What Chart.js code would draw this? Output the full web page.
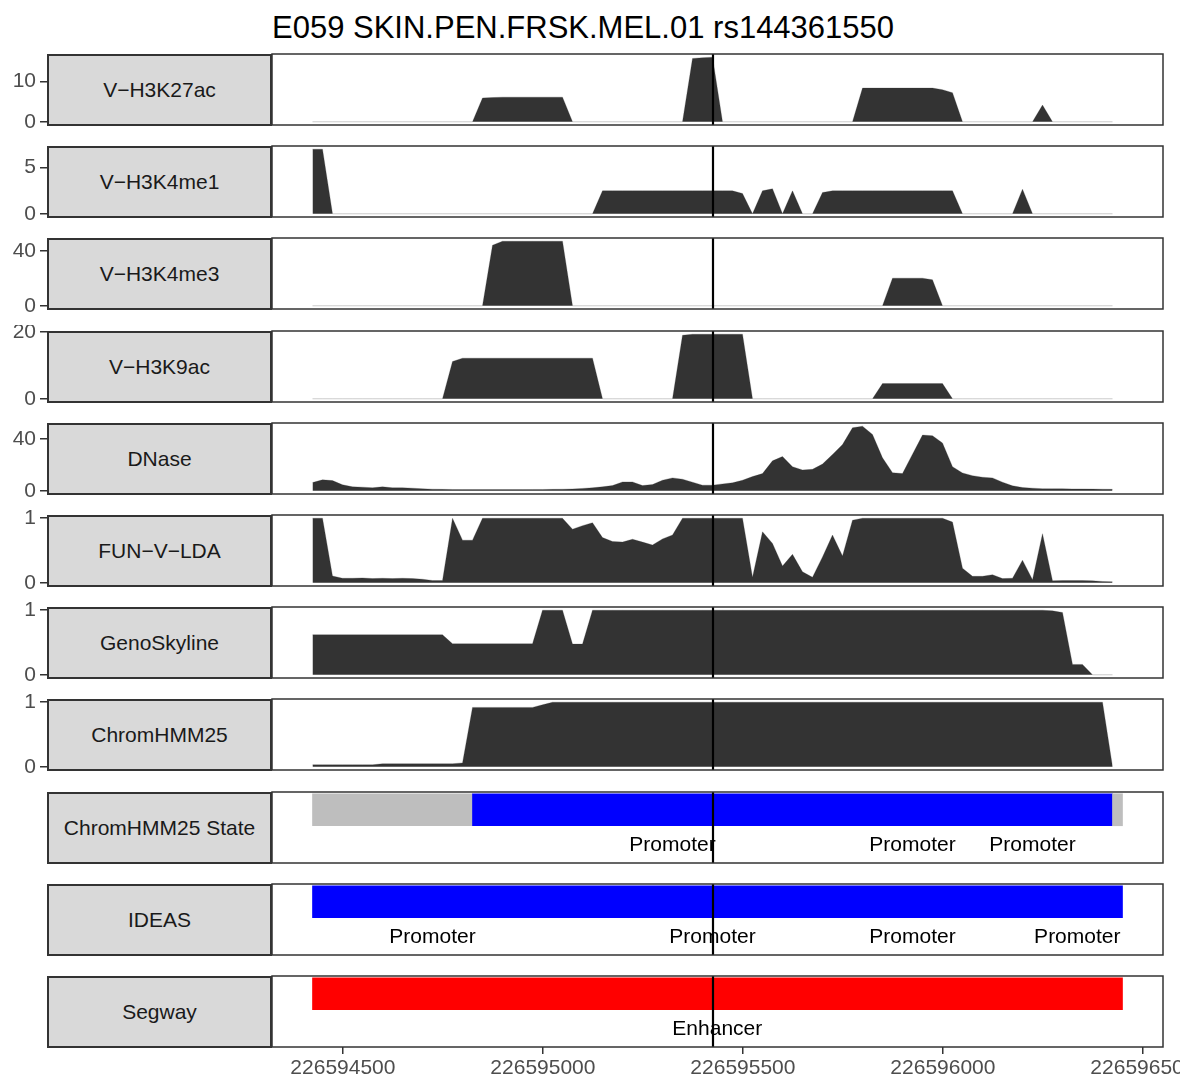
<!DOCTYPE html>
<html>
<head>
<meta charset="utf-8">
<script src="https://cdn.jsdelivr.net/npm/chart.js@4.4.1/dist/chart.umd.min.js"></script>
<style>
  html, body { margin: 0; padding: 0; background: #ffffff; }
  #fig { position: relative; width: 1180px; height: 1078px; overflow: hidden;
         font-family: "Liberation Sans", Arial, Helvetica, sans-serif; }
  #fig canvas { position: absolute; left: 0; }
  #title { position: absolute; left: 272px; top: 12px; font-size: 31px; line-height: 31px;
           color: #000; white-space: nowrap; }
  .strip { position: absolute; left: 47px; width: 225px; height: 72px; box-sizing: border-box;
           border: 2px solid #333333; background: #d9d9d9; color: #1a1a1a; font-size: 21px;
           display: flex; align-items: center; justify-content: center; white-space: nowrap; }
</style>
</head>
<body>
<div id="fig">
  <div id="title">E059 SKIN.PEN.FRSK.MEL.01 rs144361550</div>
</div>
<script>
// Region around the SNP, 25 bp bins
const snpPos = 226595424;
const regionStart = 226594424;
const regionEnd = 226596449;

const binPos = [
  226594424, 226594449, 226594474, 226594499, 226594524, 226594549, 226594574, 226594599, 226594624, 226594649,
  226594674, 226594699, 226594724, 226594749, 226594774, 226594799, 226594824, 226594849, 226594874, 226594899,
  226594924, 226594949, 226594974, 226594999, 226595024, 226595049, 226595074, 226595099, 226595124, 226595149,
  226595174, 226595199, 226595224, 226595249, 226595274, 226595299, 226595324, 226595349, 226595374, 226595399,
  226595424, 226595449, 226595474, 226595499, 226595524, 226595549, 226595574, 226595599, 226595624, 226595649,
  226595674, 226595699, 226595724, 226595749, 226595774, 226595799, 226595824, 226595849, 226595874, 226595899,
  226595924, 226595949, 226595974, 226595999, 226596024, 226596049, 226596074, 226596099, 226596124, 226596149,
  226596174, 226596199, 226596224, 226596249, 226596274, 226596299, 226596324, 226596349, 226596374, 226596399,
  226596424
];

const xTicks = [226594500, 226595000, 226595500, 226596000, 226596500];

// Signal tracks (one value per bin)
const h3k27ac = [
  0,0,0,0,0,0,0,0,0,0,
  0,0,0,0,0,0,0,5.9,6.0,6.1,
  6.1,6.1,6.1,6.1,6.1,6.1,0,0,0,0,
  0,0,0,0,0,0,0,0,15.7,15.9,
  16.0,0,0,0,0,0,0,0,0,0,
  0,0,0,0,0,8.35,8.35,8.35,8.35,8.35,
  8.35,8.35,8.35,7.95,7.2,0,0,0,0,0,
  0,0,0,4.15,0,0,0,0,0,0,
  0
];
const h3k27acTicks = [0, 10];

const h3k4me1 = [
  6.98,6.98,0,0,0,0,0,0,0,0,
  0,0,0,0,0,0,0,0,0,0,
  0,0,0,0,0,0,0,0,0,2.48,
  2.48,2.48,2.48,2.48,2.48,2.48,2.48,2.48,2.48,2.48,
  2.48,2.48,2.48,2.19,0,2.48,2.7,0,2.48,0,
  0,2.3,2.48,2.48,2.48,2.48,2.48,2.48,2.48,2.48,
  2.48,2.48,2.48,2.48,2.48,0,0,0,0,0,
  0,2.66,0,0,0,0,0,0,0,0,
  0
];
const h3k4me1Ticks = [0, 5];

const h3k4me3 = [
  0,0,0,0,0,0,0,0,0,0,
  0,0,0,0,0,0,0,0,44.1,47,
  47,47,47,47,47,47,0,0,0,0,
  0,0,0,0,0,0,0,0,0,0,
  0,0,0,0,0,0,0,0,0,0,
  0,0,0,0,0,0,0,0,20.1,20.1,
  20.1,20.1,18.9,0,0,0,0,0,0,0,
  0,0,0,0,0,0,0,0,0,0,
  0
];
const h3k4me3Ticks = [0, 20, 40];

const h3k9ac = [
  0,0,0,0,0,0,0,0,0,0,
  0,0,0,0,11.2,12.2,12.2,12.2,12.2,12.2,
  12.2,12.2,12.2,12.2,12.2,12.2,12.2,12.2,12.2,0,
  0,0,0,0,0,0,0,19.1,19.4,19.4,
  19.4,19.4,19.4,19.4,0,0,0,0,0,0,
  0,0,0,0,0,0,0,4.57,4.57,4.57,
  4.57,4.57,4.57,4.57,0,0,0,0,0,0,
  0,0,0,0,0,0,0,0,0,0,
  0
];
const h3k9acTicks = [0, 10, 20];

const dnase = [
  6.3,8.4,7.8,4.6,3.0,2.8,2.3,3.0,2.3,2.3,
  2.0,1.5,1.25,1.1,1.0,0.9,0.9,0.9,0.9,0.9,
  0.9,0.9,1.0,1.0,1.1,1.2,1.4,1.8,2.3,3.0,
  4.0,6.8,6.8,4.0,4.8,8.1,9.9,8.9,6.6,4.3,
  4.3,5.3,6.1,8.1,10.9,13.2,23,26.3,18.5,16,
  16.5,20.5,27.9,35.5,48.4,49.6,43.3,25.3,13.9,13.2,
  28.1,42.8,42.3,36.7,18.5,13.7,11.6,10.4,9.9,6.6,
  3.8,2.5,2.0,1.6,1.5,1.5,1.4,1.4,1.3,1.2,
  1.1
];
const dnaseTicks = [0, 20, 40];

const funLda = [
  1.0,1.0,0.105,0.07,0.07,0.075,0.065,0.07,0.065,0.07,
  0.065,0.055,0.035,0.035,1.0,0.66,0.66,1.0,1.0,1.0,
  1.0,1.0,1.0,1.0,1.0,1.0,0.83,0.885,0.93,0.70,
  0.64,0.63,0.675,0.63,0.585,0.68,0.74,1.0,1.0,1.0,
  1.0,1.0,1.0,1.0,0.085,0.79,0.61,0.26,0.44,0.17,
  0.085,0.40,0.74,0.415,0.97,1.0,1.0,1.0,1.0,1.0,
  1.0,1.0,1.0,1.0,0.94,0.225,0.10,0.10,0.125,0.065,
  0.07,0.35,0.045,0.76,0.03,0.035,0.035,0.035,0.03,0.02,
  0.015
];
const genoSkyline = [
  0.62,0.62,0.62,0.62,0.62,0.62,0.62,0.62,0.62,0.62,
  0.62,0.62,0.62,0.62,0.48,0.48,0.48,0.48,0.48,0.48,
  0.48,0.48,0.48,1.0,1.0,1.0,0.475,0.475,1.0,1.0,
  1.0,1.0,1.0,1.0,1.0,1.0,1.0,1.0,1.0,1.0,
  1.0,1.0,1.0,1.0,1.0,1.0,1.0,1.0,1.0,1.0,
  1.0,1.0,1.0,1.0,1.0,1.0,1.0,1.0,1.0,1.0,
  1.0,1.0,1.0,1.0,1.0,1.0,1.0,1.0,1.0,1.0,
  1.0,1.0,1.0,1.0,0.99,0.965,0.16,0.16,0,0,
  0
];
const chromHmm25 = [
  0.03,0.03,0.03,0.03,0.03,0.03,0.03,0.047,0.047,0.047,
  0.047,0.047,0.047,0.047,0.047,0.06,0.92,0.92,0.92,0.92,
  0.92,0.92,0.92,0.96,1.0,1.0,1.0,1.0,1.0,1.0,
  1.0,1.0,1.0,1.0,1.0,1.0,1.0,1.0,1.0,1.0,
  1.0,1.0,1.0,1.0,1.0,1.0,1.0,1.0,1.0,1.0,
  1.0,1.0,1.0,1.0,1.0,1.0,1.0,1.0,1.0,1.0,
  1.0,1.0,1.0,1.0,1.0,1.0,1.0,1.0,1.0,1.0,
  1.0,1.0,1.0,1.0,1.0,1.0,1.0,1.0,1.0,1.0,
  0
];
const unitTicks = [0, 1];

// Segmentation tracks
const stateColors = { Quiescent: '#bebebe', Promoter: '#0000ff', Enhancer: '#ff0000' };

const chromStateStart = [226594424, 226594824, 226596424];
const chromStateEnd   = [226594824, 226596424, 226596449];
const chromStateName  = ['Quiescent', 'Promoter', 'Quiescent'];
const chromStateLabelPos  = [226595324, 226595924, 226596224];
const chromStateLabelText = ['Promoter', 'Promoter', 'Promoter'];

const ideasStart = [226594424];
const ideasEnd   = [226596449];
const ideasName  = ['Promoter'];
const ideasLabelPos  = [226594724, 226595424, 226595924, 226596336];
const ideasLabelText = ['Promoter', 'Promoter', 'Promoter', 'Promoter'];

const segwayStart = [226594424];
const segwayEnd   = [226596449];
const segwayName  = ['Enhancer'];
const segwayLabelPos  = [226595436];
const segwayLabelText = ['Enhancer'];

// ---- layout ----
const FONT = '"Liberation Sans", Arial, Helvetica, sans-serif';
Chart.defaults.font.family = FONT;
const W = 1180;
const PLOT_RIGHT_PAD = 17;
const panelTop = i => Math.round(54 + 92.2 * i);
const PANEL_H = 71;
const span = regionEnd - regionStart;
const xMin = regionStart - 0.05 * span;
const xMax = regionEnd + 0.05 * span;

const fig = document.getElementById('fig');

function frame(labels) {
  return {
    id: 'panelFrame',
    afterDraw(chart) {
      const { ctx, chartArea: a, scales } = chart;
      ctx.save();
      if (labels) {
        ctx.fillStyle = '#000000';
        ctx.font = '21px ' + FONT;
        ctx.textAlign = 'center';
        ctx.textBaseline = 'middle';
        const ty = scales.y.getPixelForValue(1);
        labels.pos.forEach((p, i) => {
          ctx.fillText(labels.text[i], scales.x.getPixelForValue(p), ty);
        });
      }
      const sx = Math.round(scales.x.getPixelForValue(snpPos));
      ctx.strokeStyle = '#000000';
      ctx.lineWidth = 2.2;
      ctx.beginPath();
      ctx.moveTo(sx, a.top);
      ctx.lineTo(sx, a.bottom);
      ctx.stroke();
      ctx.strokeStyle = '#333333';
      ctx.lineWidth = 1.5;
      ctx.strokeRect(a.left, a.top, a.right - a.left, a.bottom - a.top);
      ctx.restore();
    }
  };
}

function xScale(isLast) {
  return {
    type: 'linear', min: xMin, max: xMax, bounds: 'data', display: isLast,
    afterBuildTicks: s => { s.ticks = xTicks.map(v => ({ value: v })); },
    afterFit: s => {
      if (!isLast) return;
      s.height = 31; s.paddingLeft = 0; s.paddingRight = 0;
    },
    grid: { drawOnChartArea: false, drawTicks: true, tickLength: 7, color: '#333333', lineWidth: 1.5 },
    border: { display: false },
    ticks: { color: '#4d4d4d', font: { size: 21 }, padding: 2, maxRotation: 0, autoSkip: false,
             callback: v => String(v) }
  };
}

function makeCanvas(i, isLast) {
  const c = document.createElement('canvas');
  const top = panelTop(i) - 6;
  const h = isLast ? 1078 - top : PANEL_H + 12;
  c.width = W; c.height = h;
  c.style.top = top + 'px';
  c.style.width = W + 'px'; c.style.height = h + 'px';
  fig.appendChild(c);
  return c;
}

function addStrip(i, name) {
  const d = document.createElement('div');
  d.className = 'strip';
  d.style.top = panelTop(i) + 'px';
  d.textContent = name;
  fig.appendChild(d);
}

const signalTracks = [
  { name: 'V\u2212H3K27ac', values: h3k27ac, ticks: h3k27acTicks },
  { name: 'V\u2212H3K4me1', values: h3k4me1, ticks: h3k4me1Ticks },
  { name: 'V\u2212H3K4me3', values: h3k4me3, ticks: h3k4me3Ticks },
  { name: 'V\u2212H3K9ac', values: h3k9ac, ticks: h3k9acTicks },
  { name: 'DNase', values: dnase, ticks: dnaseTicks },
  { name: 'FUN\u2212V\u2212LDA', values: funLda, ticks: unitTicks },
  { name: 'GenoSkyline', values: genoSkyline, ticks: unitTicks },
  { name: 'ChromHMM25', values: chromHmm25, ticks: unitTicks }
];

const stateTracks = [
  { name: 'ChromHMM25 State', start: chromStateStart, end: chromStateEnd, state: chromStateName,
    labels: { pos: chromStateLabelPos, text: chromStateLabelText } },
  { name: 'IDEAS', start: ideasStart, end: ideasEnd, state: ideasName,
    labels: { pos: ideasLabelPos, text: ideasLabelText } },
  { name: 'Segway', start: segwayStart, end: segwayEnd, state: segwayName,
    labels: { pos: segwayLabelPos, text: segwayLabelText } }
];

const totalPanels = signalTracks.length + stateTracks.length;

signalTracks.forEach((t, i) => {
  const isLast = i === totalPanels - 1;
  const c = makeCanvas(i, isLast);
  const vmax = Math.max(...t.values);
  new Chart(c, {
    type: 'line',
    data: {
      datasets: [{
        data: binPos.map((p, k) => ({ x: p, y: t.values[k] })),
        fill: 'origin',
        backgroundColor: '#333333',
        borderColor: 'rgba(51,51,51,0.25)',
        borderWidth: 1,
        pointRadius: 0,
        tension: 0
      }]
    },
    options: {
      responsive: false, animation: false, devicePixelRatio: 1,
      layout: { padding: { left: 0, right: PLOT_RIGHT_PAD, top: 6, bottom: isLast ? 0 : 6 }, autoPadding: false },
      plugins: { legend: { display: false }, tooltip: { enabled: false } },
      scales: {
        x: xScale(isLast),
        y: {
          type: 'linear', min: -0.05 * vmax, max: 1.05 * vmax, bounds: 'data',
          afterBuildTicks: s => { s.ticks = t.ticks.map(v => ({ value: v })); },
          afterFit: s => { s.width = 272; s.paddingTop = 0; s.paddingBottom = 0; },
          grid: { drawOnChartArea: false, drawTicks: true, tickLength: 232, color: '#333333', lineWidth: 1.5 },
          border: { display: false },
          ticks: { color: '#4d4d4d', font: { size: 21 }, padding: 4, callback: v => String(v) }
        }
      }
    },
    plugins: [frame(null)]
  });
  addStrip(i, t.name);
});

stateTracks.forEach((t, j) => {
  const i = signalTracks.length + j;
  const isLast = i === totalPanels - 1;
  const c = makeCanvas(i, isLast);
  new Chart(c, {
    type: 'bar',
    data: {
      labels: ['bar', 'text'],
      datasets: [{
        data: t.start.map((s, k) => ({ x: [s, t.end[k]], y: 'bar' })),
        backgroundColor: t.state.map(s => stateColors[s]),
        borderWidth: 0,
        borderSkipped: false,
        barThickness: 32,
        grouped: false
      }]
    },
    options: {
      indexAxis: 'y',
      responsive: false, animation: false, devicePixelRatio: 1,
      layout: { padding: { left: 272, right: PLOT_RIGHT_PAD, top: 6, bottom: isLast ? 0 : 6 }, autoPadding: false },
      plugins: { legend: { display: false }, tooltip: { enabled: false } },
      scales: {
        x: xScale(isLast),
        y: { type: 'category', display: false, offset: true }
      }
    },
    plugins: [frame(t.labels)]
  });
  addStrip(i, t.name);
});
</script>
</body>
</html>
